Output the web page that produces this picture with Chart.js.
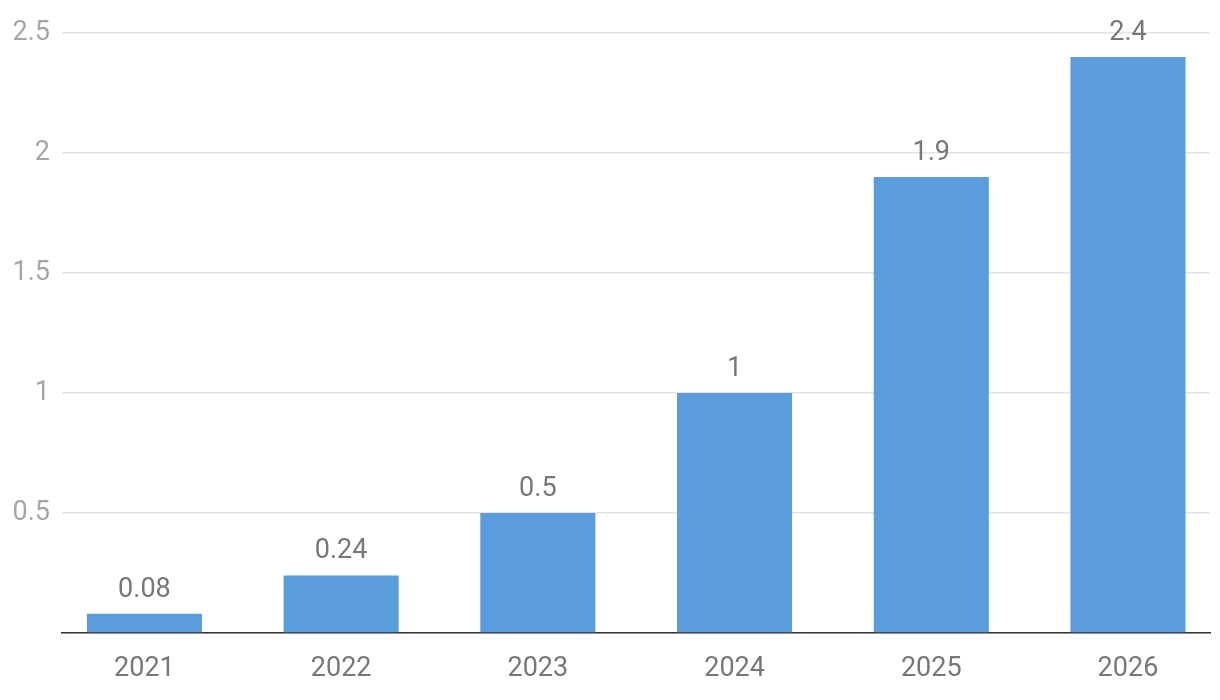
<!DOCTYPE html>
<html>
<head>
<meta charset="utf-8">
<script src="https://cdn.jsdelivr.net/npm/chart.js@4/dist/chart.umd.min.js"></script>
<style>
  html, body { margin: 0; padding: 0; background: #fff; }
  #wrap { width: 1220px; height: 700px; }
</style>
</head>
<body>
<div id="wrap"><canvas id="myChart"></canvas></div>
<script>
const years = ['2021', '2022', '2023', '2024', '2025', '2026'];
const values = [0.08, 0.24, 0.5, 1, 1.9, 2.4];
const yTicks = [0.5, 1, 1.5, 2, 2.5];

// value labels above each bar
const barLabels = {
    id: 'barLabels',
    afterDatasetsDraw(chart) {
        const { ctx } = chart;
        const meta = chart.getDatasetMeta(0);
        ctx.save();
        ctx.font = '27px Roboto';
        ctx.fillStyle = '#777777';
        ctx.textAlign = 'center';
        ctx.textBaseline = 'alphabetic';
        meta.data.forEach((bar, i) => {
            ctx.fillText(String(values[i]), bar.x, bar.y - 17);
        });
        ctx.restore();
    }
};

const points = values.map((v, i) => ({ x: i, y: v }));

new Chart(document.getElementById('myChart'), {
    type: 'bar',
    data: {
        datasets: [{
            data: points,
            backgroundColor: '#5a9cdc',
            borderWidth: 0,
            barPercentage: 0.585,
            categoryPercentage: 1
        }]
    },
    options: {
        responsive: true,
        maintainAspectRatio: false,
        animation: false,
        layout: { padding: { top: 33, right: 10, left: 0, bottom: 0 } },
        plugins: { legend: { display: false }, tooltip: { enabled: false } },
        scales: {
            x: {
                type: 'linear',
                offset: false,
                min: -0.419,
                max: 5.417,
                grid: { display: false },
                border: { display: true, color: '#333333', width: 1.5 },
                ticks: {
                    stepSize: 1,
                    includeBounds: false,
                    autoSkip: false,
                    maxRotation: 0,
                    padding: 12,
                    color: '#777777',
                    font: { family: 'Roboto', size: 27 },
                    callback: (v) => (Number.isInteger(v) && years[v] !== undefined) ? years[v] : ''
                },
                afterFit(scale) { scale.height = 67; }
            },
            y: {
                min: 0,
                max: 2.5,
                grid: { color: '#e4e4e4', lineWidth: 1.5, drawTicks: false },
                border: { display: false },
                ticks: {
                    stepSize: 0.5,
                    padding: 12,
                    color: '#a6a6a6',
                    font: { family: 'Roboto', size: 27 },
                    callback: (v) => yTicks.includes(v) ? String(v) : ''
                },
                afterFit(scale) { scale.width = 62; }
            }
        }
    },
    plugins: [barLabels]
});
</script>
</body>
</html>
